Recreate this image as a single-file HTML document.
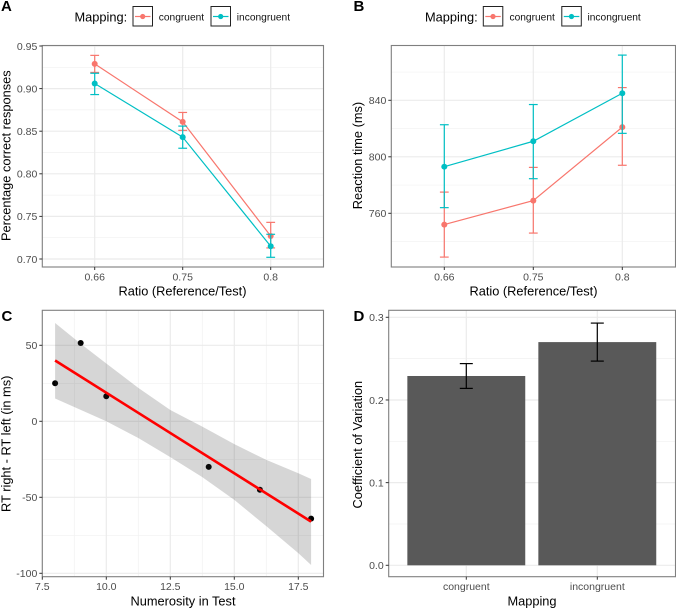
<!DOCTYPE html>
<html lang="en">
<head>
<meta charset="utf-8">
<title>Mapping experiment results</title>
<style>
html,body{margin:0;padding:0;background:#fff;}
svg{display:block;font-family:"Liberation Sans",Arial,sans-serif;}
</style>
</head>
<body>
<svg id="figure" width="676" height="608" viewBox="0 0 676 608" xmlns="http://www.w3.org/2000/svg">
  <rect x="0" y="0" width="676" height="608" fill="#fff"/>
  <text x="1" y="11" font-size="15" font-weight="bold">A</text>
  <text x="353.5" y="11" font-size="15" font-weight="bold">B</text>
  <text x="1.5" y="321" font-size="15" font-weight="bold">C</text>
  <text x="353.5" y="321" font-size="15" font-weight="bold">D</text>

  <g>
    <text x="74.5" y="21.5" font-size="12.8">Mapping:</text>
    <g>
      <rect x="133" y="6.5" width="19.5" height="19.5" fill="#fff" stroke="#222" stroke-width="1"/>
      <line x1="135" x2="150.5" y1="16.5" y2="16.5" stroke="#F8766D" stroke-width="1.2"/>
      <circle cx="142.7" cy="16.5" r="2.6" fill="#F8766D"/>
      <text x="158.8" y="20.5" font-size="10.2" fill="#111">congruent</text>
    </g>
    <g>
      <rect x="211" y="6.5" width="19.5" height="19.5" fill="#fff" stroke="#222" stroke-width="1"/>
      <line x1="213" x2="228.5" y1="16.5" y2="16.5" stroke="#00BFC4" stroke-width="1.2"/>
      <circle cx="220.7" cy="16.5" r="2.6" fill="#00BFC4"/>
      <text x="236.8" y="20.5" font-size="10.2" fill="#111">incongruent</text>
    </g>
  </g>
  <g>
    <text x="425" y="21.5" font-size="12.8">Mapping:</text>
    <g>
      <rect x="483.3" y="6.5" width="19.5" height="19.5" fill="#fff" stroke="#222" stroke-width="1"/>
      <line x1="485.3" x2="500.8" y1="16.5" y2="16.5" stroke="#F8766D" stroke-width="1.2"/>
      <circle cx="493" cy="16.5" r="2.6" fill="#F8766D"/>
      <text x="509.5" y="20.5" font-size="10.2" fill="#111">congruent</text>
    </g>
    <g>
      <rect x="561.8" y="6.5" width="19.5" height="19.5" fill="#fff" stroke="#222" stroke-width="1"/>
      <line x1="563.8" x2="579.3" y1="16.5" y2="16.5" stroke="#00BFC4" stroke-width="1.2"/>
      <circle cx="571.5" cy="16.5" r="2.6" fill="#00BFC4"/>
      <text x="587.5" y="20.5" font-size="10.2" fill="#111">incongruent</text>
    </g>
  </g>
</svg>
<script>
// Panel A: accuracy
const ratioLabels = ["0.66", "0.75", "0.8"];
const accTicks = [0.70, 0.75, 0.80, 0.85, 0.90, 0.95];
const accMinorTicks = [0.725, 0.775, 0.825, 0.875, 0.925];
const accCongruent = [0.929, 0.861, 0.727];
const accCongruentHigh = [0.939, 0.872, 0.743];
const accCongruentLow = [0.919, 0.851, 0.713];
const accIncongruent = [0.906, 0.843, 0.715];
const accIncongruentHigh = [0.918, 0.856, 0.729];
const accIncongruentLow = [0.893, 0.830, 0.702];

// Panel B: reaction time
const rtTicks = [760, 800, 840];
const rtMinorTicks = [740, 780, 820, 860];
const rtCongruent = [752, 769, 821];
const rtCongruentHigh = [775, 792.5, 849];
const rtCongruentLow = [729, 746, 794];
const rtIncongruent = [793, 811, 845];
const rtIncongruentHigh = [822.7, 837, 872];
const rtIncongruentLow = [764, 784.5, 816.6];

// Panel C: regression
const numXTicks = [7.5, 10, 12.5, 15, 17.5];
const numXLabels = ["7.5", "10.0", "12.5", "15.0", "17.5"];
const numXMinor = [8.75, 11.25, 13.75, 16.25];
const diffTicks = [-100, -50, 0, 50];
const diffMinor = [-75, -25, 25];
const pointX = [8, 9, 10, 14, 16, 18];
const pointY = [25, 51.5, 16.5, -30, -45, -64];
const fitX = [8, 18];
const fitY = [40, -66];
const bandX = [8, 9, 10, 11.25, 12.5, 13.75, 15, 16.25, 17.5, 18];
const bandUpper = [64.7, 51, 38, 22, 7.4, -3.5, -15, -25.4, -34.2, -38];
const bandLower = [15, 7.5, 0, -11, -23.6, -36.7, -51.7, -69, -86.7, -94.5];

// Panel D: coefficient of variation
const mappingLabels = ["congruent", "incongruent"];
const cvValues = [0.229, 0.270];
const cvHigh = [0.244, 0.293];
const cvLow = [0.214, 0.247];
const cvTicks = [0, 0.1, 0.2, 0.3];
const cvTickLabels = ["0.0", "0.1", "0.2", "0.3"];
const cvMinor = [0.05, 0.15, 0.25];

const RED = "#F8766D";
const TEAL = "#00BFC4";
const NS = "http://www.w3.org/2000/svg";
const fig = document.getElementById("figure");

function linear(d0, d1, r0, r1) {
  return function (v) { return r0 + (v - d0) * (r1 - r0) / (d1 - d0); };
}
function add(parent, tag, props, txt) {
  const el = document.createElementNS(NS, tag);
  for (const k in props) el.setAttribute(k, props[k]);
  if (txt !== undefined) el.textContent = txt;
  parent.appendChild(el);
  return el;
}
function seg(parent, x1, y1, x2, y2, stroke, w) {
  return add(parent, "line", { x1: x1, y1: y1, x2: x2, y2: y2, stroke: stroke, "stroke-width": w });
}
function group(name) {
  const g = add(fig, "g", {});
  
  
  return g;
}

// Background grid for a panel
function frameBack(name, box, xs, xMinor, ys, yMinor) {
  const g = group(name + "-grid");
  yMinor.forEach(function (p) { seg(g, box.l, p, box.r, p, "#f1f1f1", 0.7); });
  xMinor.forEach(function (p) { seg(g, p, box.t, p, box.b, "#f1f1f1", 0.7); });
  ys.forEach(function (p) { seg(g, box.l, p, box.r, p, "#ebebeb", 1.2); });
  xs.forEach(function (p) { seg(g, p, box.t, p, box.b, "#ebebeb", 1.2); });
}
// Axes, tick labels, titles and panel border
function frameFront(name, box, xs, xLabels, ys, yLabels, xTitle, yTitle) {
  const border = add(fig, "rect", { x: box.l, y: box.t, width: box.r - box.l, height: box.b - box.t, fill: "none", stroke: "#7f7f7f", "stroke-width": 1.1 });
  
  

  const xg = group(name + "-x-axis");
  xs.forEach(function (p, i) {
    seg(xg, p, box.b, p, box.b + 3, "#333", 1);
    const t = add(xg, "text", { x: p, y: box.b + 13.5, "font-size": 10.5, fill: "#4d4d4d", "text-anchor": "middle" }, xLabels[i]);
    
    
  });
  const yg = group(name + "-y-axis");
  ys.forEach(function (p, i) {
    seg(yg, box.l - 3, p, box.l, p, "#333", 1);
    const t = add(yg, "text", { x: box.l - 5, y: p + 3.8, "font-size": 10.5, fill: "#4d4d4d", "text-anchor": "end" }, yLabels[i]);
    
    
  });
  const xt = add(fig, "text", { x: xTitle.x, y: xTitle.y, "font-size": 12.8, "text-anchor": "middle" }, xTitle.text);
  
  
  const yt = add(fig, "text", { transform: "translate(" + yTitle.x + "," + yTitle.y + ") rotate(-90)", "font-size": 12.8, "text-anchor": "middle" }, yTitle.text);
  
  
}
// Line + error bars + points for one series
function series(name, xs, yScale, values, high, low, color) {
  const g = group(name);
  values.forEach(function (v, i) {
    const eb = add(g, "g", { stroke: color, "stroke-width": 1.2 });
    
    
    seg(eb, xs[i], yScale(high[i]), xs[i], yScale(low[i]), color, 1.2);
    seg(eb, xs[i] - 4.4, yScale(high[i]), xs[i] + 4.4, yScale(high[i]), color, 1.2);
    seg(eb, xs[i] - 4.4, yScale(low[i]), xs[i] + 4.4, yScale(low[i]), color, 1.2);
  });
  const line = add(g, "polyline", {
    points: values.map(function (v, i) { return xs[i] + "," + yScale(v); }).join(" "),
    fill: "none", stroke: color, "stroke-width": 1.2
  });
  
  
  values.forEach(function (v, i) {
    const c = add(g, "circle", { cx: xs[i], cy: yScale(v), r: 3, fill: color });
    
    
  });
}

// ---------- Panel A ----------
const boxA = { l: 42.3, r: 323.5, t: 45.5, b: 267 };
const xA = linear(0, 2, 94.7, 270.7);
const yA = linear(0.70, 0.95, 259, 46);
const xPosA = ratioLabels.map(function (d, i) { return xA(i); });
frameBack("panel-a", boxA, xPosA, [], accTicks.map(yA), accMinorTicks.map(yA));
series("panel-a-congruent", xPosA, yA, accCongruent, accCongruentHigh, accCongruentLow, RED);
series("panel-a-incongruent", xPosA, yA, accIncongruent, accIncongruentHigh, accIncongruentLow, TEAL);
frameFront("panel-a", boxA, xPosA, ratioLabels, accTicks.map(yA), accTicks.map(function (v) { return v.toFixed(2); }),
  { x: 182.5, y: 295.5, text: "Ratio (Reference/Test)" }, { x: 10.5, y: 155.7, text: "Percentage correct responses" });

// ---------- Panel B ----------
const boxB = { l: 391.3, r: 675.5, t: 45.5, b: 267 };
const xB = linear(0, 2, 444.3, 622.3);
const yB = linear(760, 840, 213.3, 100.3);
const xPosB = ratioLabels.map(function (d, i) { return xB(i); });
frameBack("panel-b", boxB, xPosB, [], rtTicks.map(yB), rtMinorTicks.map(yB));
series("panel-b-congruent", xPosB, yB, rtCongruent, rtCongruentHigh, rtCongruentLow, RED);
series("panel-b-incongruent", xPosB, yB, rtIncongruent, rtIncongruentHigh, rtIncongruentLow, TEAL);
frameFront("panel-b", boxB, xPosB, ratioLabels, rtTicks.map(yB), rtTicks.map(String),
  { x: 533.5, y: 295.5, text: "Ratio (Reference/Test)" }, { x: 362, y: 155.5, text: "Reaction time (ms)" });

// ---------- Panel C ----------
const boxC = { l: 42.3, r: 323.5, t: 310.3, b: 576.7 };
const xC = linear(7.5, 17.5, 42.3, 298.3);
const yC = linear(0, 50, 421.3, 345.3);
frameBack("panel-c", boxC, numXTicks.map(xC), numXMinor.map(xC), diffTicks.map(yC), diffMinor.map(yC));
const dotsC = group("panel-c-points");
pointX.forEach(function (x, i) {
  const c = add(dotsC, "circle", { cx: xC(x), cy: yC(pointY[i]), r: 3, fill: "#000" });
  
  
});
const bandPts = bandX.map(function (x, i) { return xC(x) + "," + yC(bandUpper[i]); })
  .concat(bandX.map(function (x, i) { return xC(x) + "," + yC(bandLower[i]); }).reverse());
const band = add(fig, "polygon", { points: bandPts.join(" "), fill: "#333333", "fill-opacity": 0.2 });


const fit = add(fig, "polyline", {
  points: fitX.map(function (x, i) { return xC(x) + "," + yC(fitY[i]); }).join(" "),
  fill: "none", stroke: "#ff0000", "stroke-width": 2.6
});


frameFront("panel-c", boxC, numXTicks.map(xC), numXLabels, diffTicks.map(yC), diffTicks.map(String),
  { x: 183, y: 605.5, text: "Numerosity in Test" }, { x: 10.5, y: 443.8, text: "RT right - RT left (in ms)" });

// ---------- Panel D ----------
const boxD = { l: 388.7, r: 675.5, t: 310.3, b: 576.7 };
const xD = linear(0, 1, 466.3, 597.3);
const yD = linear(0, 0.3, 565.3, 317.3);
const xPosD = mappingLabels.map(function (d, i) { return xD(i); });
frameBack("panel-d", boxD, xPosD, [], cvTicks.map(yD), cvMinor.map(yD));
const barW = (xD(1) - xD(0)) * 0.9;
const barsD = group("panel-d-bars");
cvValues.forEach(function (v, i) {
  const r = add(barsD, "rect", { x: xD(i) - barW / 2, y: yD(v), width: barW, height: yD(0) - yD(v), fill: "#595959" });
  
  
});
const errD = group("panel-d-error-bars");
cvValues.forEach(function (v, i) {
  const e = add(errD, "g", {});
  
  
  seg(e, xD(i), yD(cvHigh[i]), xD(i), yD(cvLow[i]), "#000", 1.2);
  seg(e, xD(i) - 6.5, yD(cvHigh[i]), xD(i) + 6.5, yD(cvHigh[i]), "#000", 1.2);
  seg(e, xD(i) - 6.5, yD(cvLow[i]), xD(i) + 6.5, yD(cvLow[i]), "#000", 1.2);
});
frameFront("panel-d", boxD, xPosD, mappingLabels, cvTicks.map(yD), cvTickLabels,
  { x: 532, y: 605.5, text: "Mapping" }, { x: 362, y: 444.7, text: "Coefficient of Variation" });
</script>
</body>
</html>
